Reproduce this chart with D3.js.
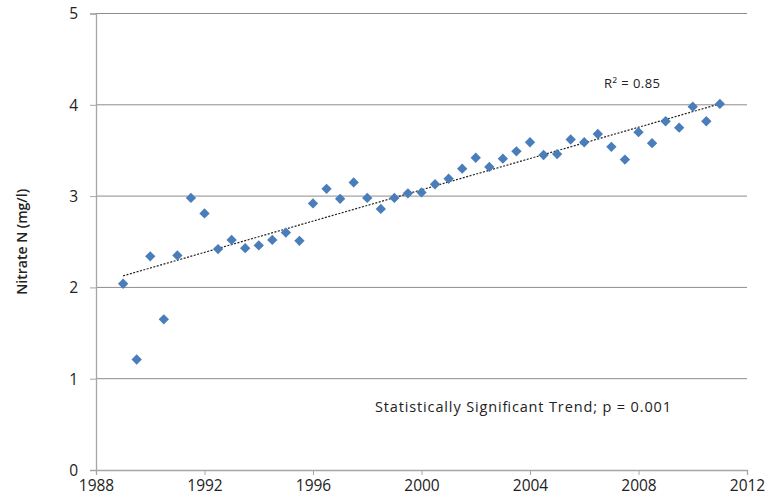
<!DOCTYPE html>
<html lang="en">
<head>
    <meta charset="UTF-8">
    <title>Nitrate N trend</title>
    <script src="https://cdn.jsdelivr.net/npm/d3@7"></script>
    <style>
        body {
            margin: 0;
            background: #fff;
            font-family: "Open Sans", Arial, sans-serif;
        }
        .tick text {
            fill: #222;
        }
    </style>
</head>
<body>
    <div id="chart"></div>

    <script>
        // Sample dates (half-year steps) and nitrate readings
        const years = [
            1989, 1989.5, 1990, 1990.5, 1991, 1991.5, 1992, 1992.5, 1993, 1993.5,
            1994, 1994.5, 1995, 1995.5, 1996, 1996.5, 1997, 1997.5, 1998, 1998.5,
            1999, 1999.5, 2000, 2000.5, 2001, 2001.5, 2002, 2002.5, 2003, 2003.5,
            2004, 2004.5, 2005, 2005.5, 2006, 2006.5, 2007, 2007.5, 2008, 2008.5,
            2009, 2009.5, 2010, 2010.5, 2011
        ];
        const nitrate = [
            2.04, 1.21, 2.34, 1.65, 2.35, 2.98, 2.81, 2.42, 2.52, 2.43,
            2.46, 2.52, 2.60, 2.51, 2.92, 3.08, 2.97, 3.15, 2.98, 2.86,
            2.98, 3.03, 3.04, 3.13, 3.19, 3.30, 3.42, 3.32, 3.41, 3.49,
            3.59, 3.45, 3.46, 3.62, 3.59, 3.68, 3.54, 3.40, 3.70, 3.58,
            3.82, 3.75, 3.98, 3.82, 4.01
        ];
        const xTicks = [1988, 1992, 1996, 2000, 2004, 2008, 2012];
        const yTicks = [0, 1, 2, 3, 4, 5];
        const rSquaredLabel = "R² = 0.85";
        const trendLabel = "Statistically Significant Trend; p = 0.001";

        const width = 778;
        const height = 504;
        const margin = { top: 13.5, right: 31, bottom: 34, left: 96 };

        const svg = d3.select('#chart')
            .append('svg')
            .attr('width', width)
            .attr('height', height);

        const x = d3.scaleLinear()
            .domain([1988, 2012])
            .range([margin.left, width - margin.right]);
        const y = d3.scaleLinear()
            .domain([0, 5])
            .range([height - margin.bottom, margin.top]);

        // horizontal gridlines
        svg.append('g')
            .selectAll('line')
            .data(yTicks.filter(d => d > 0))
            .enter()
            .append('line')
            .attr('x1', x(1988))
            .attr('x2', x(2012))
            .attr('y1', d => y(d))
            .attr('y2', d => y(d))
            .attr('stroke', '#8c8c8c')
            .attr('stroke-width', 1);

        // axes
        const xAxis = svg.append('g')
            .attr('transform', `translate(0,${y(0)})`)
            .call(d3.axisBottom(x).tickValues(xTicks).tickFormat(d3.format('d')).tickSize(5).tickPadding(5));
        const yAxis = svg.append('g')
            .attr('transform', `translate(${x(1988)},0)`)
            .call(d3.axisLeft(y).tickValues(yTicks).tickFormat(d3.format('d')).tickSize(6).tickPadding(12));

        [xAxis, yAxis].forEach(g => {
            g.select('.domain').attr('stroke', '#a6a6a6').attr('stroke-width', 1.3);
            g.selectAll('.tick line').attr('stroke', '#a6a6a6');
            g.selectAll('.tick text')
                .style('font-family', '"Open Sans", Arial, sans-serif')
                .style('font-size', '15.5px');
        });
        yAxis.selectAll('.tick text').attr('dy', '0.35em');

        // y axis title
        svg.append('text')
            .attr('transform', `translate(27,${(y(0) + y(5)) / 2}) rotate(-90)`)
            .attr('text-anchor', 'middle')
            .style('font-size', '14px')
            .style('font-weight', '600')
            .attr('fill', '#222')
            .text('Nitrate N (mg/l)');

        // linear trend (least squares)
        const mx = d3.mean(years);
        const my = d3.mean(nitrate);
        let sxy = 0, sxx = 0;
        years.forEach((yr, i) => {
            sxy += (yr - mx) * (nitrate[i] - my);
            sxx += (yr - mx) * (yr - mx);
        });
        const slope = sxy / sxx;
        const intercept = my - slope * mx;
        const x0 = d3.min(years), x1 = d3.max(years);

        svg.append('line')
            .attr('x1', x(x0))
            .attr('x2', x(x1))
            .attr('y1', y(intercept + slope * x0))
            .attr('y2', y(intercept + slope * x1))
            .attr('stroke', '#222')
            .attr('stroke-width', 1.2)
            .attr('stroke-dasharray', '2,1.5');

        // diamond markers
        const diamond = d3.symbol().type(d3.symbolDiamond2).size(68);
        svg.append('g')
            .selectAll('path')
            .data(years.map((yr, i) => ({ year: yr, value: nitrate[i] })))
            .enter()
            .append('path')
            .attr('d', diamond)
            .attr('transform', d => `translate(${x(d.year)},${y(d.value)})`)
            .attr('fill', '#4a7ebb');

        // annotations
        svg.append('text')
            .attr('x', 604)
            .attr('y', 88)
            .style('font-size', '13px')
            .attr('fill', '#222')
            .attr('textLength', 56)
            .text(rSquaredLabel);

        svg.append('text')
            .attr('x', 375)
            .attr('y', 412)
            .style('font-size', '14.5px')
            .attr('fill', '#222')
            .attr('textLength', 296)
            .text(trendLabel);
    </script>
</body>
</html>
